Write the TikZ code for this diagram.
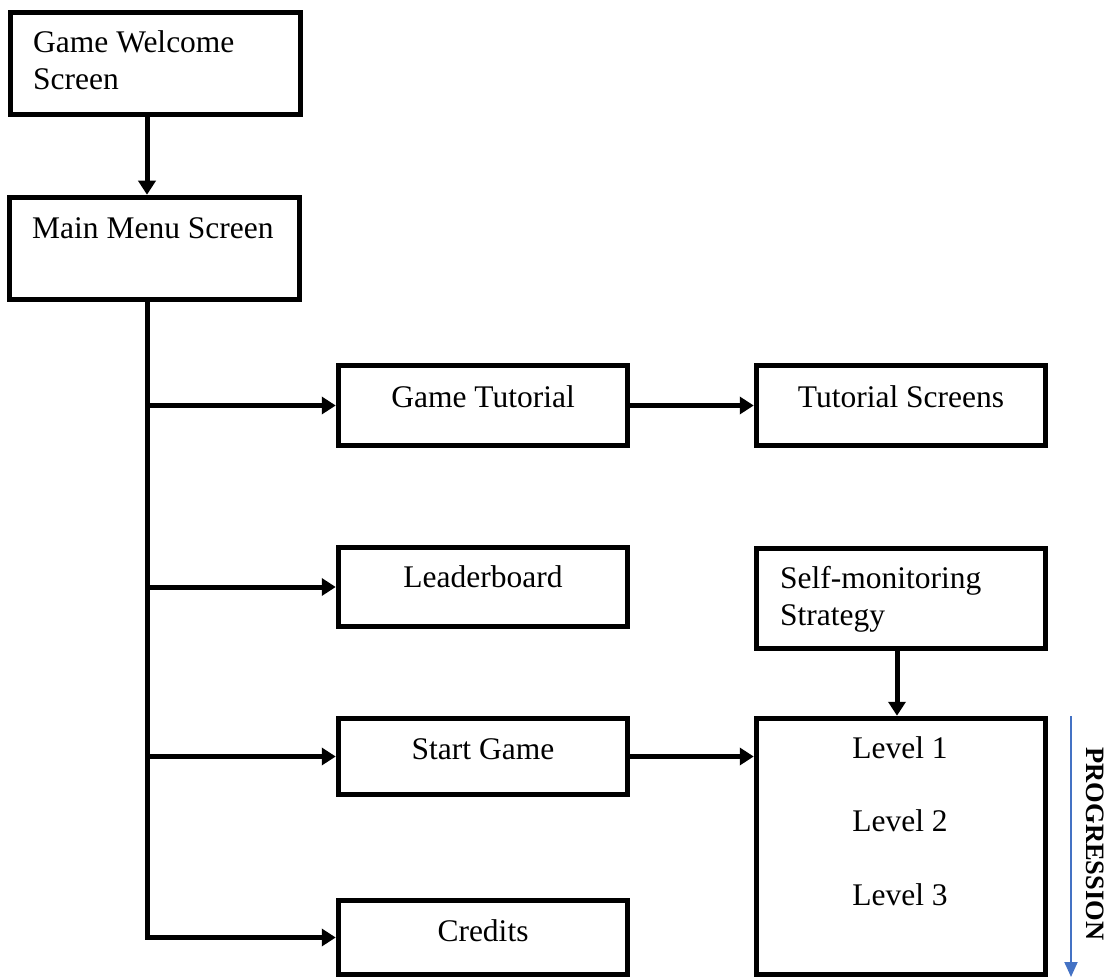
\documentclass[tikz,border=0pt]{standalone}
\usepackage{fontspec}
\setmainfont{Liberation Serif}
\usetikzlibrary{arrows.meta}
\begin{document}
\begin{tikzpicture}[x=1pt, y=-1pt,
  box/.style={draw=black, line width=5.5pt, rectangle, inner sep=0pt, fill=white},
  lbl/.style={inner sep=0pt, font=\fontsize{31.5}{37}\selectfont, align=left},
  conn/.style={draw=black, line width=5pt},
  arr/.style={conn, -{Triangle[length=14pt, width=17pt]}},
  prog/.style={draw={rgb,255:red,68;green,114;blue,196}, line width=2pt,
               -{Triangle[length=15pt, width=13pt]}}]
  \useasboundingbox (0,0) rectangle (1112,979);

  % boxes
  \node[box, minimum width=290pt, minimum height=102pt] (wel) at (155.5,63.5) {};
  \node[box, minimum width=290pt, minimum height=102pt] (mm)  at (154.5,248.5) {};
  \node[box, minimum width=289pt, minimum height=80pt]  (gt)  at (483,405.5) {};
  \node[box, minimum width=289pt, minimum height=80pt]  (ts)  at (901,405.5) {};
  \node[box, minimum width=289pt, minimum height=79pt]  (lb)  at (483,587) {};
  \node[box, minimum width=289pt, minimum height=100pt] (sm)  at (901,598.5) {};
  \node[box, minimum width=289pt, minimum height=76pt]  (sg)  at (483,756.5) {};
  \node[box, minimum width=289pt, minimum height=74pt]  (cr)  at (483,937.5) {};
  \node[box, minimum width=289pt, minimum height=256pt] (lv)  at (901,846.5) {};

  % texts (multi-line nodes are anchored on their last baseline)
  \node[lbl, anchor=base west] (welT) at (33,90) {Game Welcome\\Screen};
  \node[lbl, anchor=base west] (mmT) at (32,238) {Main Menu Screen};
  \node[lbl, anchor=base] (gtT) at (483,407) {Game Tutorial};
  \node[lbl, anchor=base] (tsT) at (901,407) {Tutorial Screens};
  \node[lbl, anchor=base] (lbT) at (483,587) {Leaderboard};
  \node[lbl, anchor=base west] (smT) at (780,625) {Self-monitoring\\Strategy};
  \node[lbl, anchor=base] (sgT) at (483,759) {Start Game};
  \node[lbl, anchor=base] (crT) at (483,941) {Credits};
  \node[lbl, anchor=base] (lv1) at (900,758) {Level 1};
  \node[lbl, anchor=base] (lv2) at (900,831) {Level 2};
  \node[lbl, anchor=base] (lv3) at (900,905) {Level 3};

  % menu trunk
  \coordinate (trunk) at (147,0);
  \draw[arr] (wel.south -| trunk) -- (mm.north -| trunk);
  \draw[arr] (mm.south -| trunk) |- (cr.west);
  \draw[arr] (gt.west -| trunk) -- (gt.west);
  \draw[arr] (lb.west -| trunk) -- (lb.west);
  \draw[arr] (sg.west -| trunk) -- (sg.west);

  % onward links
  \draw[arr] (gt.east) -- (ts.west);
  \draw[arr] (sg.east) -- (sg.east -| lv.west);
  \draw[arr] ([xshift=-4pt]sm.south) -- ([xshift=-4pt]lv.north);

  % progression indicator
  \coordinate (pgtop) at (1071,716);
  \coordinate (pgbot) at (1071,977);
  \draw[prog] (pgtop) -- (pgbot);
  \node[inner sep=0pt, rotate=-90, font=\fontsize{26.5}{30}\selectfont\bfseries] (pg) at (1095,844) {PROGRESSION};
\end{tikzpicture}
\end{document}
